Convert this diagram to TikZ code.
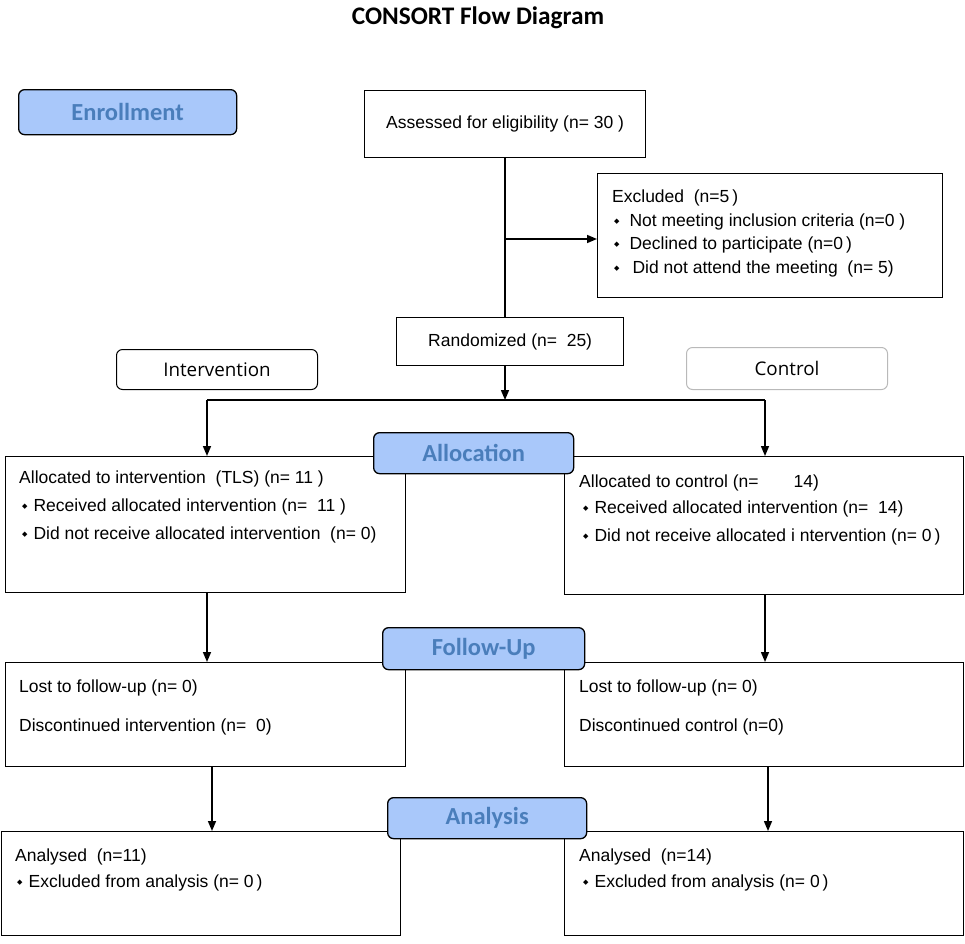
\documentclass[tikz,border=0pt]{standalone}
\usepackage{fontspec}
\setmainfont{Liberation Sans}
\newfontfamily\labfont{Carlito}
\newfontfamily\armfont{Open Sans}
\newfontfamily\symfont{DejaVu Sans}
\usetikzlibrary{arrows.meta, positioning, calc}
\definecolor{consblue}{RGB}{169, 200, 250}
\definecolor{consdark}{RGB}{ 74, 126, 187}
\definecolor{consgray}{RGB}{185, 185, 185}
\newcommand{\bul}{{\symfont\fontsize{7}{7}\selectfont\raisebox{3pt}{◆}}\hspace{6pt}}

\begin{document}
\begin{tikzpicture}[x=1pt, y=-1pt,
	box/.style={draw, line width=1.3pt, inner sep=0pt, anchor=north west,
		font=\fontsize{17.5}{21}\selectfont},
	txt/.style={anchor=west, inner sep=0pt, text height=12.5pt, text depth=3.5pt,
		font=\fontsize{17.5}{21}\selectfont},
	stage/.style={box, rounded corners=6pt, fill=consblue, text=consdark,
		font=\labfont\bfseries\fontsize{24.5}{24.5}\selectfont},
	arm/.style={box, rounded corners=6pt, line width=1pt,
		font=\armfont\fontsize{18.8}{22}\selectfont},
	line/.style={line width=1.5pt},
	arr/.style={line, -{Triangle[length=10pt, width=8pt]}}
]
\useasboundingbox (0,0) rectangle (965,943);
\node[font=\labfont\bfseries\fontsize{25.3}{25.3}\selectfont] (title) at (478,18) {CONSORT Flow Diagram};

% enrollment
\node[stage, minimum width=218, minimum height=45] (enrol) at (18,89) {Enrollment};
\node[box, minimum width=281, minimum height=67] (assess) at (364,90) {Assessed for eligibility (n= 30 )};
\node[box, minimum width=345, minimum height=124] (excl) at (597,173) {};
\node[txt] (ex0) at ([xshift=15,yshift=-25]excl.north west) {Excluded\ \ (n=5\,)};
\foreach \t/\dy in {Not meeting inclusion criteria (n=0 )/-49, Declined to participate (n=0\,)/-72, \,Did not attend the meeting\ \ (n= 5)/-96}
	\node[txt] at ([xshift=17,yshift=\dy]excl.north west) {\bul\hspace{4pt}\t};
\node[box, minimum width=227, minimum height=48] (rand) at (396,317) {Randomized (n=\ \ 25)};
\node[arm, minimum width=201, minimum height=40] (intv) at (116,349) {Intervention};
\node[arm, draw=consgray, minimum width=201, minimum height=42] (ctrl) at (686,347) {Control};

% allocation
\node[box, minimum width=400, minimum height=136] (allocL) at (5,456) {};
\node[box, minimum width=399, minimum height=138] (allocR) at (564,456) {};
\node[txt] at ([xshift=14,yshift=-23]allocL.north west) {Allocated to intervention\ \ (TLS) (n= 11 )};
\node[txt] at ([xshift=17,yshift=-51]allocL.north west) {\bul Received allocated intervention (n=\ \ 11 )};
\node[txt] at ([xshift=17,yshift=-79]allocL.north west) {\bul Did not receive allocated intervention\ \ (n= 0)};
\node[txt] at ([xshift=15,yshift=-27]allocR.north west) {Allocated to control (n=\hspace{35pt}14)};
\node[txt] at ([xshift=19,yshift=-53]allocR.north west) {\bul Received allocated intervention (n=\ \ 14)};
\node[txt] at ([xshift=19,yshift=-81]allocR.north west) {\bul Did not receive allocated i ntervention (n= 0\,)};
\node[stage, minimum width=200, minimum height=41] (alloc) at (373,432) {Allocation};

% follow-up
\node[box, minimum width=400, minimum height=104] (followL) at (5,662) {};
\node[box, minimum width=399, minimum height=104] (followR) at (564,662) {};
\node[txt] at ([xshift=14,yshift=-26]followL.north west) {Lost to follow-up (n= 0)};
\node[txt] at ([xshift=14,yshift=-65]followL.north west) {Discontinued intervention (n=\ \ 0)};
\node[txt] at ([xshift=15,yshift=-26]followR.north west) {Lost to follow-up (n= 0)};
\node[txt] at ([xshift=15,yshift=-65]followR.north west) {Discontinued control (n=0)};
\node[stage, minimum width=202, minimum height=42] (follow) at (382,627) {Follow-Up};

% analysis
\node[box, minimum width=399, minimum height=104] (anaL) at (1,831) {};
\node[box, minimum width=399, minimum height=104] (anaR) at (564,831) {};
\node[txt] at ([xshift=14,yshift=-26]anaL.north west) {Analysed\ \ (n=11)};
\node[txt] at ([xshift=16,yshift=-52]anaL.north west) {\bul Excluded from analysis (n= 0\,)};
\node[txt] at ([xshift=15,yshift=-26]anaR.north west) {Analysed\ \ (n=14)};
\node[txt] at ([xshift=19,yshift=-52]anaR.north west) {\bul Excluded from analysis (n= 0\,)};
\node[stage, minimum width=199, minimum height=41] (ana) at (387,797) {Analysis};

% connectors
\coordinate (split) at (505,239);
\coordinate (hub) at (505,400);
\coordinate (brL) at (207,400);
\coordinate (brR) at (765,400);
\coordinate (dnL) at (212,766);
\coordinate (dnR) at (768,766);
\draw[line] (split |- assess.south) -- (split |- rand.north);
\draw[arr] (split) -- (split -| excl.west);
\draw[arr] (split |- rand.south) -- (hub);
\draw[line] (brL) -- (brR);
\draw[arr] (brL) -- (brL |- allocL.north);
\draw[arr] (brR) -- (brR |- allocR.north);
\draw[arr] (brL |- allocL.south) -- (brL |- followL.north);
\draw[arr] (brR |- allocR.south) -- (brR |- followR.north);
\draw[arr] (dnL) -- (dnL |- anaL.north);
\draw[arr] (dnR) -- (dnR |- anaR.north);
\end{tikzpicture}
\end{document}
